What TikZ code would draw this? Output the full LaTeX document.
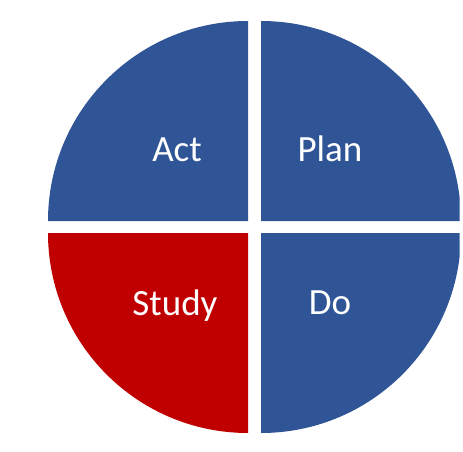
\documentclass[tikz,border=0pt]{standalone}
\usepackage{fontspec}
\setmainfont{Carlito}
\definecolor{pdblue}{RGB}{47,85,151}
\definecolor{pdred}{RGB}{192,0,0}
\begin{document}
\begin{tikzpicture}[x=1pt,y=1pt,
  quad/.style={fill=pdblue,draw=none},
  lbl/.style={text=white,anchor=base,inner sep=0pt,font=\fontsize{37}{44}\selectfont}]
\useasboundingbox (0,0) rectangle (463,451);
\begin{scope}
\clip (0,0) rectangle (459.5,451);
\fill[pdblue] (248,230) -- (48,230) arc[start angle=180,end angle=90,radius=200] -- cycle;
\fill[pdblue] (261,230) -- (261,430) arc[start angle=90,end angle=0,radius=200] -- cycle;
\fill[pdred] (248,218) -- (248,18) arc[start angle=270,end angle=180,radius=200] -- cycle;
\fill[pdblue] (261,218) -- (461,218) arc[start angle=0,end angle=-90,radius=200] -- cycle;
\end{scope}
\node[lbl] (act) at (177,290) {Act};
\node[lbl] (plan) at (330,290) {Plan};
\node[lbl] (study) at (175,136) {Study};
\node[lbl] (do) at (330,137) {Do};
\end{tikzpicture}
\end{document}
